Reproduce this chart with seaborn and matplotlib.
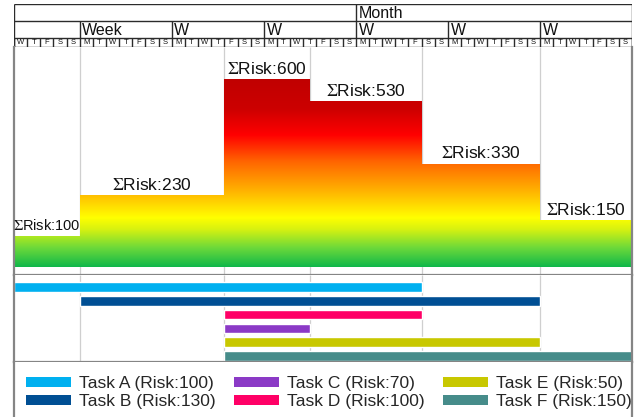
"""
Risk histogram over a project schedule: summed task risk per period plus Gantt bars.
"""

import matplotlib

matplotlib.use("Agg")
import matplotlib.pyplot as plt
import numpy as np
import seaborn as sns
from matplotlib.colors import LinearSegmentedColormap
from matplotlib.patches import Patch

sns.set_theme(style="white")
plt.rcParams["font.family"] = ["Liberation Sans", "DejaVu Sans"]
plt.rcParams["mathtext.fontset"] = "stix"

# --- Schedule data (days from the first column of the calendar) ---
TASKS = ["Task A", "Task B", "Task C", "Task D", "Task E", "Task F"]
TASK_RISK = [100, 130, 70, 100, 50, 150]
TASK_START = [0, 5, 16, 16, 16, 16]
TASK_END = [31, 40, 22.5, 31, 40, 47]
TASK_COLORS = ["#00b0f0", "#004f94", "#8b3ac6", "#ff0066", "#c8c800", "#468c8a"]
ROW_ORDER = ["Task A", "Task B", "Task D", "Task C", "Task E", "Task F"]

# --- Calendar header ---
N_DAYS = 47
DAY_LETTERS = ["W", "T", "F", "S", "S"] + ["M", "T", "W", "T", "F", "S", "S"] * 6
WEEK_STARTS = [5, 12, 19, 26, 33, 40]
WEEK_LABELS = ["Week", "W", "W", "W", "W", "W"]
MONTH_STARTS = [26]
MONTH_LABELS = ["Month"]

# risk gradient (fraction of 600, colour)
RISK_MAX = 600
GRADIENT = [
    (0.00, "#10b84a"),
    (0.10, "#6cd93a"),
    (0.20, "#d8f210"),
    (0.26, "#ffff00"),
    (0.40, "#ffb400"),
    (0.56, "#ff6400"),
    (0.70, "#ff0000"),
    (0.84, "#cc0000"),
    (1.00, "#c00000"),
]

W, H = 640, 417
X0, X1 = 14, 632
BORDER = "#858585"
GRID = "#cfcfcf"


def fig_rect(top, bottom):
    """Axes rect in figure fraction from pixel rows."""
    return [X0 / W, 1 - bottom / H, (X1 - X0) / W, (bottom - top) / H]


def segment_risk():
    """Sum task risk over every period between task start/end days."""
    bounds = sorted(set(TASK_START) | set(TASK_END))
    sums = []
    for a, b in zip(bounds[:-1], bounds[1:]):
        mid = (a + b) / 2
        total = sum(r for r, s, e in zip(TASK_RISK, TASK_START, TASK_END) if s <= mid < e)
        sums.append(total)
    return bounds, sums


fig = plt.figure(figsize=(W / 100, H / 100), dpi=100)

# ---------------- header ----------------
ax_h = fig.add_axes(fig_rect(4, 47))
ax_h.set_xlim(0, N_DAYS)
ax_h.set_ylim(47, 4)
ax_h.axis("off")
line_kw = dict(color="#2b2b2b", lw=1.0)
for y in [4, 21, 38, 47]:
    ax_h.hlines(y, 0, N_DAYS, **line_kw)
ax_h.vlines([0, N_DAYS], 4, 47, **line_kw)
ax_h.vlines(MONTH_STARTS, 4, 21, **line_kw)
ax_h.vlines(WEEK_STARTS, 21, 38, **line_kw)
ax_h.vlines(np.arange(N_DAYS + 1), 38, 47, **line_kw)
for d, lab in zip(MONTH_STARTS, MONTH_LABELS):
    ax_h.text(d + 0.2, 13.5, lab, fontsize=11.5, va="center", ha="left", color="#111111")
for d, lab in zip(WEEK_STARTS, WEEK_LABELS):
    ax_h.text(d + 0.2, 30.5, lab, fontsize=11.5, va="center", ha="left", color="#111111")
for i, lab in enumerate(DAY_LETTERS):
    ax_h.text(i + 0.5, 42.8, lab, fontsize=5.5, va="center", ha="center", color="#111111")

# ---------------- risk histogram ----------------
bounds, sums = segment_risk()
px_per_unit = (267 - 79) / RISK_MAX
ax = fig.add_axes(fig_rect(47, 275))
ax.set_xlim(0, N_DAYS)
ax.set_ylim(-(275 - 267) / px_per_unit, (267 - 47) / px_per_unit)
ax.set_xticks([])
ax.set_yticks([])
ax.vlines(bounds[1:-1], *ax.get_ylim(), color=GRID, lw=0.9, zorder=0)

cmap = LinearSegmentedColormap.from_list("risk", GRADIENT)
poly = ax.fill_between(bounds, sums + [sums[-1]], step="post", facecolor="none", lw=0)
img = ax.imshow(
    np.linspace(0, 1, 512).reshape(-1, 1),
    cmap=cmap,
    extent=[0, N_DAYS, 0, RISK_MAX],
    origin="lower",
    aspect="auto",
    zorder=1,
)
img.set_clip_path(poly.get_paths()[0], transform=ax.transData)
for a, b, s in zip(bounds[:-1], bounds[1:], sums):
    # narrow periods get a smaller label so it stays inside the column
    size = 12.5 if (b - a) >= 6 else 10.5
    ax.text((a + b) / 2, s + 7, f"$\\Sigma$Risk:{s}", ha="center", va="bottom",
            fontsize=size, color="#111111")

# ---------------- task bars ----------------
ax_t = fig.add_axes(fig_rect(275, 362))
ax_t.set_xlim(0, N_DAYS)
ax_t.set_ylim((362 - 287) / 13.8, -(287 - 275) / 13.8)
ax_t.set_xticks([])
ax_t.set_yticks([])
ax_t.vlines(bounds[1:-1], *ax_t.get_ylim(), color=GRID, lw=0.9, zorder=0)
for task, risk, start, end, color in zip(TASKS, TASK_RISK, TASK_START, TASK_END, TASK_COLORS):
    row = ROW_ORDER.index(task)
    ax_t.barh(row, end - start, left=start, height=0.7, color=color, zorder=2)

# ---------------- legend ----------------
ax_l = fig.add_axes(fig_rect(362, 417))
ax_l.set_xticks([])
ax_l.set_yticks([])
handles = [Patch(facecolor=c, edgecolor="none") for c in TASK_COLORS]
labels = [f"{t} (Risk:{r})" for t, r in zip(TASKS, TASK_RISK)]
ax_l.legend(
    handles,
    labels,
    ncol=3,
    loc="center left",
    bbox_to_anchor=(0.0, 0.44),
    frameon=False,
    fontsize=12.5,
    handlelength=2.6,
    handleheight=0.5,
    handletextpad=0.46,
    columnspacing=1.05,
    labelspacing=0.15,
    borderpad=0.2,
)

for a in (ax, ax_t, ax_l):
    for name, sp in a.spines.items():
        sp.set_color(BORDER)
        sp.set_linewidth(1.6)
    a.spines["top"].set_visible(False)
ax_l.spines["bottom"].set_visible(False)

fig.savefig("out.png", dpi=100)
